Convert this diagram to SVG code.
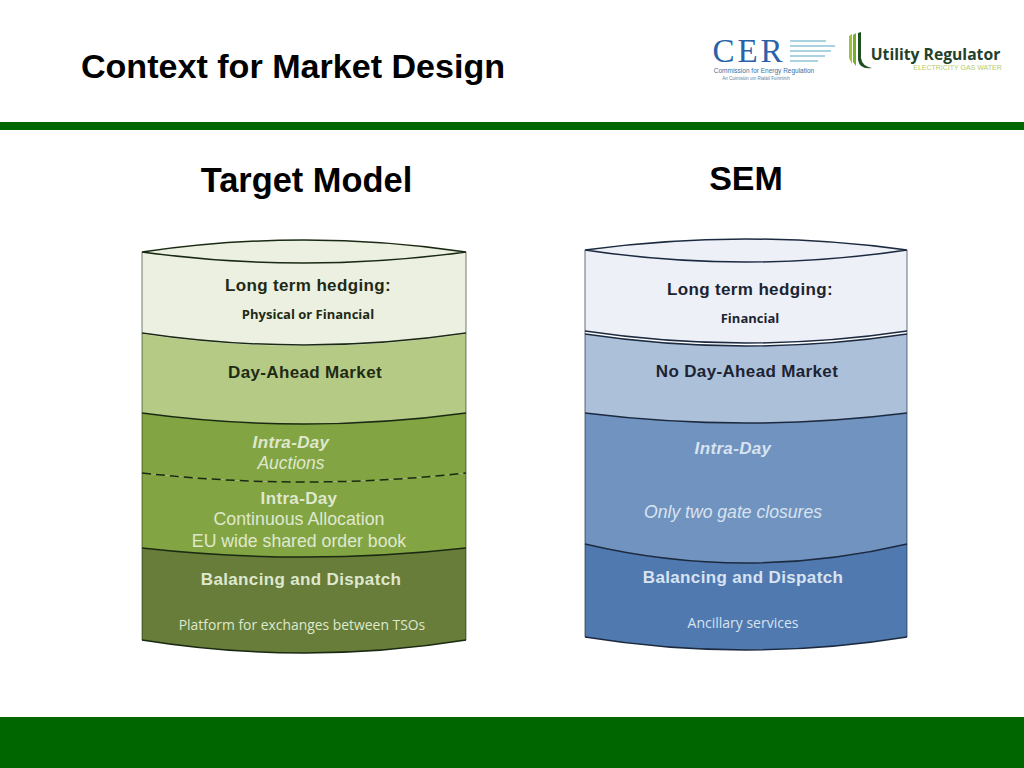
<svg xmlns="http://www.w3.org/2000/svg" width="1024" height="768" viewBox="0 0 1024 768">
<style>
text{font-family:"Liberation Sans",Arial,sans-serif;text-anchor:middle}
.h{font-weight:700;fill:#000}
.b{font-weight:700;font-size:17px;letter-spacing:.35px}
.s{font-family:"Open Sans","Noto Sans",sans-serif;font-size:13px}
.dk{fill:#1f2a15}.dkb{fill:#1c2433}
.lg{fill:#dfe8cf}.lb{fill:#d8e3f1}
.i{font-style:italic}
.edge{fill:none;stroke:#1a2a12;stroke-width:1.5}
.edgeb{fill:none;stroke:#1c2a40;stroke-width:1.5}
</style>
<rect width="1024" height="768" fill="#fff"/>
<rect x="0" y="122" width="1024" height="8" fill="#006600"/>
<rect x="0" y="717" width="1024" height="51" fill="#006600"/>
<text class="h" x="293" y="78" font-size="34.100">Context for Market Design</text>
<text class="h" x="306.500" y="192" font-size="34.400">Target Model</text>
<text class="h" x="746" y="190" font-size="34">SEM</text>

<g id="logo-cer">
<text x="749" y="62" font-size="33" fill="#2a62a8" style="font-family:'Liberation Serif',serif;letter-spacing:3px">CER</text>
<path d="M790 41H826M790 46H835M790 51H831M790 56H825M790 61H818" stroke="#8fc4d8" stroke-width="1.6" fill="none"/>
<text x="764" y="73" font-size="6.500" fill="#3f6f9f">Commission for Energy Regulation</text>
<text x="756" y="80" font-size="4.500" fill="#5f7f9f">An Coimisiún um Rialáil Fuinnimh</text>
</g>
<g id="logo-ur">
<path d="M849 36L852 34V64L849 58Z" fill="#9cc23c"/>
<path d="M853 35L856 33V66L853 62Z" fill="#7cac2c"/>
<path d="M858 33L861 32V58Q862 66 872 68Q860 70 858 60Z" fill="#1f4f1f"/>
<text x="935.500" y="60" font-size="15.700" font-weight="700" fill="#23402a" style="font-family:'Open Sans',sans-serif">Utility Regulator</text>
<text x="957.500" y="70" font-size="7" fill="#b5cc6a">ELECTRICITY  GAS  WATER</text>
</g>

<g id="target-model">
<g id="t-long-term">
<path d="M142 252Q304 228 466 252V333Q304 357 142 333Z" fill="#ebf0e1"/>
<path d="M142 252Q304 228 466 252Q304 274 142 252Z" fill="#ebf0e1" class="edge"/>
<text class="b dk" x="308" y="291">Long term hedging:</text>
<text class="s dk" x="308" y="319" font-weight="700">Physical or Financial</text>
</g>
<g id="t-day-ahead">
<path d="M142 334Q304 358 466 334V413Q304 435 142 413Z" fill="#b5ca85"/>
<text class="b dk" x="305" y="378">Day-Ahead Market</text>
</g>
<g id="t-intra-auctions">
<path d="M142 413Q304 435 466 413V473Q304 491 142 473Z" fill="#83a442"/>
<text class="b i lg" x="291" y="448">Intra-Day</text>
<text class="i lg" x="291" y="469" font-size="17.500">Auctions</text>
</g>
<g id="t-intra-continuous">
<path d="M142 473Q304 491 466 473V548Q304 566 142 548Z" fill="#83a442"/>
<text class="b lg" x="299" y="504">Intra-Day</text>
<text class="lg" x="299" y="525" font-size="17.800">Continuous Allocation</text>
<text class="lg" x="299" y="547" font-size="17.700">EU wide shared order book</text>
</g>
<g id="t-balancing">
<path d="M142 548Q304 566 466 548V640Q304 666 142 640Z" fill="#677d39"/>
<text class="b lg" x="301" y="585">Balancing and Dispatch</text>
<text class="s lg" x="302" y="630" style="font-size:13.900px">Platform for exchanges between TSOs</text>
</g>
</g>

<g id="sem">
<g id="s-long-term">
<path d="M585 250Q746 228 907 250V331Q746 355 585 331Z" fill="#edf1f7"/>
<path d="M585 250Q746 228 907 250Q746 274 585 250Z" fill="#edf1f7" class="edgeb"/>
<text class="b dkb" x="750" y="295">Long term hedging:</text>
<text class="s dkb" x="750" y="323" font-weight="700">Financial</text>
</g>
<g id="s-day-ahead">
<path d="M585 334Q746 358 907 334V413Q746 433 585 413Z" fill="#adc0da"/>
<text class="b dkb" x="747" y="377">No Day-Ahead Market</text>
</g>
<g id="s-intra">
<path d="M585 413Q746 433 907 413V544Q746 582 585 544Z" fill="#7093bf"/>
<text class="b i lb" x="733" y="454">Intra-Day</text>
<text class="i lb" x="733" y="518" font-size="17.600">Only two gate closures</text>
</g>
<g id="s-balancing">
<path d="M585 544Q746 582 907 544V637Q746 663 585 637Z" fill="#5079af"/>
<text class="b lb" x="743" y="583">Balancing and Dispatch</text>
<text class="s lb" x="743" y="628" style="font-size:14px">Ancillary services</text>
</g>
</g>

<g id="connectors">
<path class="edge" d="M142 252V640M466 252V640" stroke-opacity=".4"/>
<path class="edge" d="M142 333Q304 357 466 333"/>
<path class="edge" d="M142 413Q304 435 466 413"/>
<path class="edge" d="M142 473Q304 491 466 473" stroke-dasharray="9 5"/>
<path class="edge" d="M142 548Q304 566 466 548"/>
<path class="edge" d="M142 640Q304 666 466 640"/>
<path class="edgeb" d="M585 250V637M907 250V637" stroke-opacity=".45"/>
<path class="edgeb" d="M585 331Q746 355 907 331"/>
<path class="edgeb" d="M585 334Q746 358 907 334"/>
<path class="edgeb" d="M585 413Q746 433 907 413"/>
<path class="edgeb" d="M585 544Q746 582 907 544"/>
<path class="edgeb" d="M585 637Q746 663 907 637"/>
</g>
</svg>
